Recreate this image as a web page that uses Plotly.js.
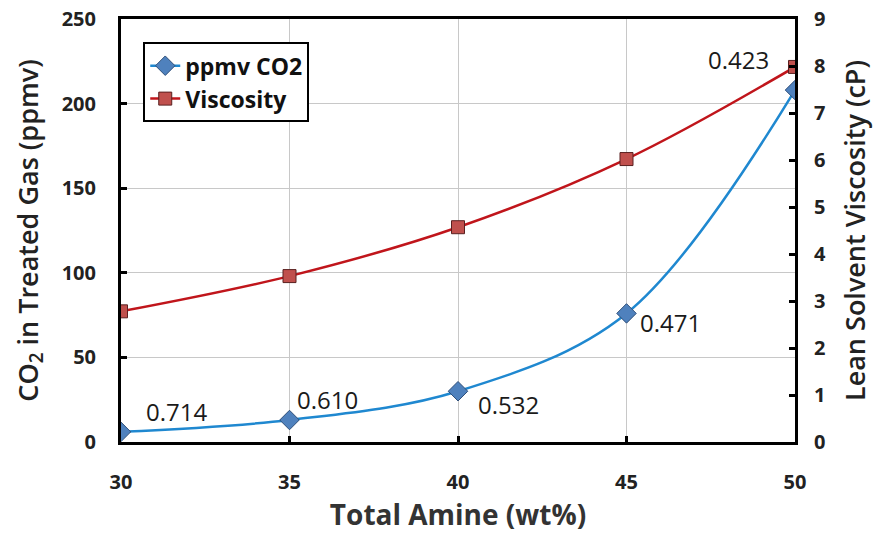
<!DOCTYPE html>
<html>
<head>
<meta charset="utf-8">
<script src="https://cdn.plot.ly/plotly-3.0.1.min.js"></script>
<style>html,body{margin:0;padding:0;background:#fff;}#chart{width:882px;height:534px;}</style>
</head>
<body>
<div id="chart"></div>
<script>
const amine = [30, 35, 40, 45, 50];
const ppmvCO2 = [6, 13, 30, 76, 208];
const viscosity = [2.78, 3.53, 4.57, 6.02, 7.98];
const loadingLabels = ['0.714', '0.610', '0.532', '0.471', '0.423'];
const xTicks = [30, 35, 40, 45, 50];
const yLeftTicks = [0, 50, 100, 150, 200, 250];
const yRightTicks = [0, 1, 2, 3, 4, 5, 6, 7, 8, 9];

const FONT = 'Open Sans, Liberation Sans, sans-serif';

const traces = [
  {
    x: amine, y: ppmvCO2, name: 'ppmv CO2', type: 'scatter', mode: 'lines+markers',
    line: {color: '#1F88D0', width: 2.5, shape: 'spline', smoothing: 1},
    marker: {symbol: 'diamond', size: 15, color: '#4F81BD', line: {color: '#2F4F7A', width: 1}},
    yaxis: 'y'
  },
  {
    x: amine, y: viscosity, name: 'Viscosity', type: 'scatter', mode: 'lines+markers',
    line: {color: '#C0151B', width: 2.5, shape: 'spline', smoothing: 1},
    marker: {symbol: 'square', size: 13, color: '#C0504D', line: {color: '#5A2020', width: 1}},
    yaxis: 'y2'
  }
];

// label offsets (pixels) relative to the point: [dx, dy] with dy positive downward
const annOffsets = [[55, -20], [38, -21], [50, 13], [44, 9], [-57, -7]];
const annotations = loadingLabels.map((t, i) => {
  const onVisc = i === loadingLabels.length - 1;
  return {
    x: amine[i], y: onVisc ? viscosity[i] : ppmvCO2[i],
    xref: 'x', yref: onVisc ? 'y2' : 'y',
    text: t, showarrow: false,
    xshift: annOffsets[i][0], yshift: -annOffsets[i][1],
    font: {family: FONT, size: 24, color: '#1a1a1a', weight: 500}
  };
});

const layout = {
  width: 882, height: 534,
  margin: {l: 121, r: 87, t: 19, b: 92},
  paper_bgcolor: '#fff', plot_bgcolor: '#fff',
  showlegend: true,
  legend: {
    x: 0.033, y: 0.945, xanchor: 'left', yanchor: 'top',
    bgcolor: '#fff', bordercolor: '#000', borderwidth: 2,
    font: {family: FONT, size: 23, color: '#111', weight: 'bold'},
    tracegroupgap: 4
  },
  xaxis: {
    range: [30, 50], tickvals: xTicks, ticktext: xTicks.map(String),
    showline: true, linecolor: '#000', linewidth: 3, mirror: true,
    ticks: 'inside', ticklen: 6, tickwidth: 3, tickcolor: '#000',
    showgrid: true, gridcolor: '#C8C8C8', gridwidth: 1, zeroline: false,
    ticklabelstandoff: 20,
    tickfont: {family: FONT, size: 20, color: '#222', weight: 'bold'},
    title: {text: 'Total Amine (wt%)', font: {family: FONT, size: 28, color: '#333', weight: 'bold'}, standoff: 6}
  },
  yaxis: {
    range: [0, 250], tickvals: yLeftTicks,
    showline: true, linecolor: '#000', linewidth: 3,
    ticks: 'inside', ticklen: 6, tickwidth: 3, tickcolor: '#000',
    showgrid: true, gridcolor: '#C8C8C8', gridwidth: 1, zeroline: false,
    ticklabelstandoff: 18,
    tickfont: {family: FONT, size: 20, color: '#222', weight: 'bold'},
    title: {text: 'CO<sub>2</sub> in Treated Gas (ppmv)', font: {family: FONT, size: 27, color: '#222', weight: 600}, standoff: 16}
  },
  yaxis2: {
    range: [0, 9], tickvals: yRightTicks, overlaying: 'y', side: 'right',
    showline: true, linecolor: '#000', linewidth: 3,
    ticks: 'inside', ticklen: 6, tickwidth: 3, tickcolor: '#000',
    showgrid: false, zeroline: false,
    ticklabelstandoff: 12,
    tickfont: {family: FONT, size: 20, color: '#222', weight: 'bold'},
    title: {text: 'Lean Solvent Viscosity (cP)', font: {family: FONT, size: 27, color: '#222', weight: 600}, standoff: 22}
  },
  annotations: annotations
};

Plotly.newPlot('chart', traces, layout, {displayModeBar: false, staticPlot: true});
</script>
</body>
</html>
